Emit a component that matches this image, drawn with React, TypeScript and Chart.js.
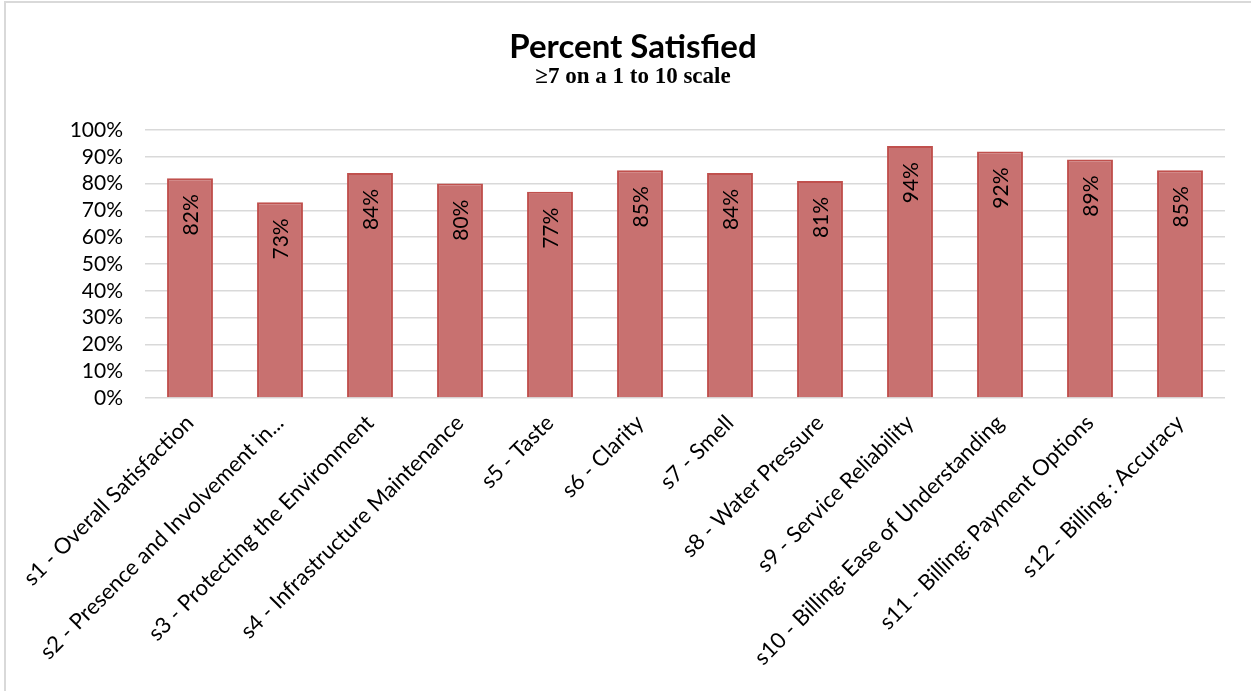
import React, { useEffect, useRef } from "react";
import { Chart, registerables } from "chart.js";

Chart.register(...registerables);

const categories = [
  "s1 - Overall Satisfaction",
  "s2 - Presence and Involvement in...",
  "s3 - Protecting the Environment",
  "s4 - Infrastructure Maintenance",
  "s5 - Taste",
  "s6 - Clarity",
  "s7 - Smell",
  "s8 - Water Pressure",
  "s9 - Service Reliability",
  "s10 - Billing: Ease of Understanding",
  "s11 - Billing: Payment Options",
  "s12 - Billing : Accuracy",
];
const percentSatisfied = [82, 73, 84, 80, 77, 85, 84, 81, 94, 92, 89, 85];
const yTickValues = [0, 10, 20, 30, 40, 50, 60, 70, 80, 90, 100];
const titleText = "Percent Satisfied";
const subtitleText = "\u22657 on a 1 to 10 scale";

const W = 1251;
const H = 691;

const valueLabels = {
  id: "valueLabels",
  afterDatasetsDraw(chart: any) {
    const meta = chart.getDatasetMeta(0);
    const ctx = chart.ctx;
    ctx.save();
    ctx.font = "21px Lato";
    ctx.fillStyle = "#000000";
    ctx.textAlign = "right";
    ctx.textBaseline = "middle";
    meta.data.forEach((el: any, i: number) => {
      const { x, y } = el.getProps(["x", "y"], true);
      ctx.save();
      ctx.translate(x + 1, y + 16);
      ctx.rotate(-Math.PI / 2);
      ctx.fillText(percentSatisfied[i] + "%", 0, 0);
      ctx.restore();
    });
    ctx.restore();
  },
};

export default function App() {
  const canvasRef = useRef<HTMLCanvasElement | null>(null);

  useEffect(() => {
    const canvas = canvasRef.current;
    if (!canvas) return;
    const chart = new Chart(canvas, {
      type: "bar",
      data: {
        labels: categories,
        datasets: [
          {
            label: "Percent Satisfied",
            data: percentSatisfied,
            backgroundColor: "#C87170",
            borderColor: "#C0504D",
            borderWidth: 2,
            barPercentage: 0.51,
            categoryPercentage: 1,
          },
        ],
      },
      options: {
        responsive: false,
        animation: false,
        devicePixelRatio: 1,
        layout: { padding: { top: 30, left: 41, right: 26, bottom: 0 } },
        plugins: {
          legend: { display: false },
          tooltip: { enabled: false },
          title: {
            display: true,
            text: titleText,
            color: "#000000",
            font: { family: "Lato", size: 33, weight: "bold", lineHeight: 1.0 },
            padding: { top: 1, bottom: 0 },
          },
          subtitle: {
            display: true,
            text: subtitleText,
            color: "#000000",
            font: { family: "Liberation Serif", size: 23, weight: "bold", lineHeight: 1.0 },
            padding: { top: 2, bottom: 41 },
          },
        },
        scales: {
          x: {
            offset: true,
            grid: { display: false, drawTicks: false },
            border: { display: false },
            ticks: {
              autoSkip: false,
              maxRotation: 45,
              minRotation: 45,
              padding: 12,
              color: "#000000",
              font: { family: "Lato", size: 22 },
            },
            afterFit(scale: any) {
              scale.height = 293;
            },
          },
          y: {
            min: 0,
            max: 100,
            afterBuildTicks(scale: any) {
              scale.ticks = yTickValues.map((v) => ({ value: v }));
            },
            grid: { color: "#D9D9D9", lineWidth: 1.5, drawTicks: false },
            border: { display: false },
            ticks: {
              autoSkip: false,
              padding: 22,
              color: "#000000",
              font: { family: "Lato", size: 21 },
              callback: (v: any) => v + "%",
            },
            afterFit(scale: any) {
              scale.width = 104;
            },
          },
        },
      },
      plugins: [valueLabels],
    });
    return () => chart.destroy();
  }, []);

  return (
    <div
      style={{
        position: "fixed",
        left: 0,
        top: 0,
        width: W,
        height: H,
        background: "#ffffff",
        overflow: "hidden",
      }}
    >
      <div
        style={{
          position: "absolute",
          left: 4,
          top: 1,
          width: 1400,
          height: 900,
          border: "2px solid #D9D9D9",
        }}
      />
      <canvas
        ref={canvasRef}
        width={W}
        height={H}
        style={{ position: "absolute", left: 0, top: 0, width: W, height: H }}
      />
    </div>
  );
}
